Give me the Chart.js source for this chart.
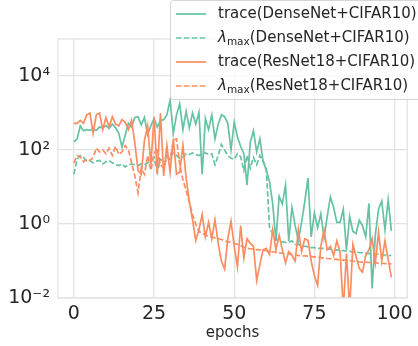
<!DOCTYPE html>
<html>
<head>
<meta charset="utf-8">
<script src="https://cdn.jsdelivr.net/npm/chart.js@4.4.0/dist/chart.umd.min.js"></script>
<style>
  body { margin: 0; background: #fff; }
</style>
</head>
<body>
<canvas id="grafico" width="418" height="346"></canvas>
<script>
// Épocas de entrenamiento
const epocas = [
  0, 1, 2, 3, 4, 5, 6, 7, 8, 9, 10, 11, 12, 13, 14, 15, 16, 17, 18, 19,
  20, 21, 22, 23, 24, 25, 26, 27, 28, 29, 30, 31, 32, 33, 34, 35, 36, 37, 38, 39,
  40, 41, 42, 43, 44, 45, 46, 47, 48, 49, 50, 51, 52, 53, 54, 55, 56, 57, 58, 59,
  60, 61, 62, 63, 64, 65, 66, 67, 68, 69, 70, 71, 72, 73, 74, 75, 76, 77, 78, 79,
  80, 81, 82, 83, 84, 85, 86, 87, 88, 89, 90, 91, 92, 93, 94, 95, 96, 97, 98, 99
];

// traza del Hessiano, DenseNet
const trazaDense = [
  166, 200, 447, 331, 355, 339, 363, 339, 417, 398,
  457, 380, 501, 398, 282, 120, 251, 525, 417, 759,
  794, 479, 759, 263, 447, 708, 417, 631, 661, 891,
  2239, 282, 891, 1778, 355, 1122, 398, 1000, 501, 1047,
  22, 708, 355, 891, 200, 501, 891, 794, 525, 100,
  562, 224, 126, 79, 11.2, 158, 331, 89, 200, 50,
  28, 14, 3.5, 0.35, 5.6, 3.5, 11.2, 0.35, 2.8, 0.9,
  0.35, 1.1, 4.0, 17.4, 0.45, 2.0, 0.8, 1.9, 0.42, 1.6,
  5.4, 2.8, 1.1, 1.1, 2.5, 0.2, 1.6, 0.63, 0.56, 1.26,
  0.9, 0.45, 3.6, 0.018, 0.5, 2.5, 4.2, 0.7, 4.5, 0.65
];

// autovalor máximo, DenseNet
const lambdaDense = [
  22, 56, 71, 63, 50, 52, 45, 50, 52, 42,
  48, 52, 45, 40, 38, 42, 35, 40, 42, 40,
  38, 42, 40, 45, 50, 63, 25, 56, 50, 71,
  63, 83, 71, 60, 63, 79, 76, 83, 76, 71,
  79, 83, 76, 79, 40, 71, 141, 100, 71, 60,
  56, 79, 66, 28, 71, 32, 63, 40, 71, 50,
  32, 0.8, 0.55, 0.40, 0.35, 0.33, 0.32, 0.32, 0.35, 0.28,
  0.28, 0.26, 0.25, 0.24, 0.23, 0.23, 0.22, 0.22, 0.22, 0.21,
  0.21, 0.20, 0.20, 0.19, 0.19, 0.186, 0.182, 0.178, 0.174, 0.17,
  0.166, 0.162, 0.158, 0.158, 0.155, 0.151, 0.148, 0.145, 0.141, 0.141
];

// traza del Hessiano, ResNet18
const trazaRes = [
  525, 525, 631, 525, 891, 1000, 282, 891, 1000, 355,
  759, 417, 794, 501, 447, 661, 562, 355, 631, 158,
  28, 22, 178, 447, 40, 794, 22, 1000, 20, 133,
  25, 200, 22, 25, 135, 18, 4.0, 1.3, 0.36, 0.7,
  1.8, 0.45, 1.1, 0.4, 1.3, 0.3, 0.1, 0.06, 0.4, 1.2,
  0.25, 0.07, 0.9, 0.12, 0.4, 0.3, 0.25, 0.03, 0.08, 0.2,
  0.22, 0.15, 0.7, 0.2, 0.5, 0.2, 0.09, 0.18, 0.14, 0.1,
  0.7, 0.18, 0.4, 0.36, 0.1, 0.04, 0.022, 0.25, 0.68, 0.2,
  0.25, 0.14, 0.35, 0.18, 0.005, 0.16, 0.005, 0.28, 0.13, 0.063,
  0.05, 0.14, 0.2, 0.4, 0.089, 0.6, 0.1, 0.35, 0.11, 0.036
];

// autovalor máximo, ResNet18
const lambdaRes = [
  45, 71, 66, 48, 56, 52, 63, 112, 89, 100,
  79, 112, 71, 126, 76, 89, 132, 100, 45, 20,
  7, 32, 22, 71, 28, 79, 112, 40, 32, 63,
  56, 178, 200, 40, 16, 8, 4.0, 1.8, 1.0, 0.63,
  0.56, 0.5, 0.47, 0.44, 0.42, 0.4, 0.38, 0.355, 0.33, 0.32,
  0.30, 0.28, 0.26, 0.24, 0.22, 0.214, 0.209, 0.204, 0.2, 0.195,
  0.19, 0.182, 0.178, 0.174, 0.166, 0.162, 0.158, 0.155, 0.148, 0.145,
  0.141, 0.138, 0.138, 0.135, 0.132, 0.129, 0.126, 0.123, 0.12, 0.117,
  0.115, 0.112, 0.11, 0.107, 0.105, 0.105, 0.102, 0.1, 0.098, 0.095,
  0.093, 0.093, 0.091, 0.089, 0.089, 0.087, 0.087, 0.085, 0.085, 0.083
];

const ticksX = [0, 25, 50, 75, 100];
const ticksY = [0.01, 1, 100, 10000];
const etiquetasY = ['10⁻²', '10⁰', '10²', '10⁴'];

const verde = '#66c2a5';
const naranja = '#fc8d62';
const gris = '#262626';
const rejilla = '#e3e3e3';

function puntos(valores) {
  return valores.map((v, i) => ({ x: epocas[i], y: v }));
}

// marco completo del área de trazado
const marco = {
  id: 'marco',
  afterDatasetsDraw(chart) {
    const { ctx, chartArea: a } = chart;
    ctx.save();
    ctx.strokeStyle = rejilla;
    ctx.lineWidth = 1.3;
    ctx.strokeRect(a.left, a.top, a.right - a.left, a.bottom - a.top);
    ctx.restore();
  }
};

// leyenda semitransparente arriba a la derecha, con subíndice en lambda
const leyenda = {
  id: 'leyenda',
  afterDraw(chart) {
    const ctx = chart.ctx;
    ctx.save();
    ctx.fillStyle = 'rgba(255,255,255,0.8)';
    ctx.strokeStyle = 'rgba(204,204,204,0.8)';
    ctx.lineWidth = 1;
    ctx.beginPath();
    if (ctx.roundRect) ctx.roundRect(170.5, 0.5, 260, 99, 3);
    else ctx.rect(170.5, 0.5, 260, 99);
    ctx.fill();
    ctx.stroke();

    chart.data.datasets.forEach((ds, i) => {
      const y = 14 + i * 24;
      ctx.strokeStyle = ds.borderColor;
      ctx.lineWidth = ds.borderWidth;
      ctx.setLineDash(ds.borderDash || []);
      ctx.beginPath();
      ctx.moveTo(176, y);
      ctx.lineTo(206, y);
      ctx.stroke();
      ctx.setLineDash([]);

      ctx.fillStyle = gris;
      ctx.textBaseline = 'middle';
      let x = 218;
      if (ds.label.startsWith('λmax')) {
        ctx.font = 'italic 15px "DejaVu Sans"';
        ctx.fillText('λ', x, y);
        x += ctx.measureText('λ').width;
        ctx.font = '10.5px "DejaVu Sans"';
        ctx.fillText('max', x, y + 4);
        x += ctx.measureText('max').width;
        ctx.font = '15px "DejaVu Sans"';
        ctx.fillText(ds.label.slice(4), x, y);
      } else {
        ctx.font = '15px "DejaVu Sans"';
        ctx.fillText(ds.label, x, y);
      }
    });
    ctx.restore();
  }
};

const ctx = document.getElementById('grafico').getContext('2d');
new Chart(ctx, {
  type: 'line',
  data: {
    datasets: [
      { label: 'trace(DenseNet+CIFAR10)', data: puntos(trazaDense), borderColor: verde, borderWidth: 1.7, order: 4 },
      { label: 'λmax(DenseNet+CIFAR10)', data: puntos(lambdaDense), borderColor: verde, borderWidth: 1.7, borderDash: [5.5, 2.4], order: 3 },
      { label: 'trace(ResNet18+CIFAR10)', data: puntos(trazaRes), borderColor: naranja, borderWidth: 1.7, order: 2 },
      { label: 'λmax(ResNet18+CIFAR10)', data: puntos(lambdaRes), borderColor: naranja, borderWidth: 1.7, borderDash: [5.5, 2.4], order: 1 }
    ]
  },
  options: {
    responsive: false,
    animation: false,
    devicePixelRatio: 1,
    layout: { padding: { top: 39, right: 8, left: 0, bottom: 0 } },
    elements: { point: { radius: 0 }, line: { tension: 0, fill: false } },
    plugins: { legend: { display: false }, tooltip: { enabled: false } },
    scales: {
      x: {
        type: 'linear',
        min: -4.95,
        max: 103.95,
        afterBuildTicks: s => { s.ticks = ticksX.map(v => ({ value: v })); },
        afterFit: s => { s.height = 48; },
        grid: { color: rejilla, lineWidth: 1.3, drawTicks: false },
        border: { display: false },
        ticks: { color: gris, font: { family: 'DejaVu Sans', size: 19 }, padding: 5, maxRotation: 0 },
        title: { display: true, text: 'epochs', color: gris, font: { family: 'DejaVu Sans', size: 15 }, padding: { top: 0, bottom: 4 } }
      },
      y: {
        type: 'logarithmic',
        min: 0.01,
        max: 100000,
        afterBuildTicks: s => { s.ticks = ticksY.map(v => ({ value: v })); },
        afterFit: s => { s.width = 58; },
        grid: { color: rejilla, lineWidth: 1.3, drawTicks: false },
        border: { display: false },
        ticks: {
          color: gris,
          font: { family: 'DejaVu Sans', size: 19 },
          padding: 8,
          callback: v => etiquetasY[ticksY.indexOf(v)]
        }
      }
    }
  },
  plugins: [marco, leyenda]
});
</script>
</body>
</html>
